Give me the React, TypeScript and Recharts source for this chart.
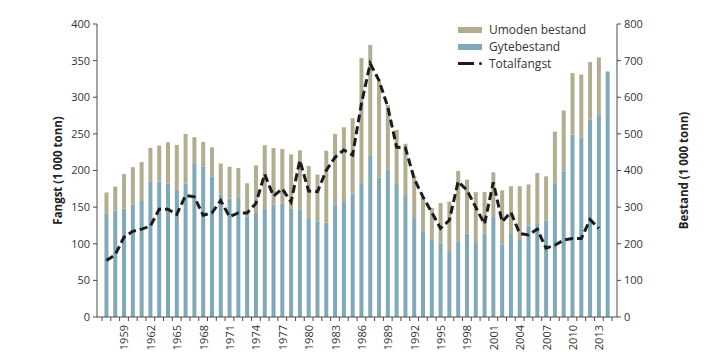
import { ComposedChart, Bar, Line, XAxis, YAxis, Legend } from "recharts";

const YEARS = [
  1957, 1958, 1959, 1960, 1961, 1962, 1963, 1964, 1965, 1966,
  1967, 1968, 1969, 1970, 1971, 1972, 1973, 1974, 1975, 1976,
  1977, 1978, 1979, 1980, 1981, 1982, 1983, 1984, 1985, 1986,
  1987, 1988, 1989, 1990, 1991, 1992, 1993, 1994, 1995, 1996,
  1997, 1998, 1999, 2000, 2001, 2002, 2003, 2004, 2005, 2006,
  2007, 2008, 2009, 2010, 2011, 2012, 2013, 2014,
];

// Gytebestand (1 000 tonn), right axis
const GYTEBESTAND = [
  283, 291, 296, 307, 319, 369, 370, 364, 347, 364,
  419, 410, 384, 335, 323, 325, 275, 284, 295, 307,
  310, 297, 294, 270, 260, 258, 308, 314, 337, 363,
  440, 380, 402, 363, 333, 270, 234, 212, 201, 180,
  205, 228, 202, 228, 273, 198, 229, 210, 249, 256,
  264, 365, 398, 498, 491, 539, 551, 670,
];

// Umoden bestand (1 000 tonn), stacked on top
const UMODEN = [
  57, 65, 94, 102, 104, 93, 98, 113, 123, 136,
  72, 68, 79, 84, 87, 82, 90, 130, 174, 154,
  149, 147, 161, 142, 129, 196, 192, 204, 206, 344,
  303, 264, 177, 148, 140, 114, 95, 86, 110, 135,
  194, 147, 139, 113, 122, 148, 128, 147, 113, 137,
  120, 141, 166, 168, 171, 157, 158, 0,
];

// Totalfangst (1 000 tonn), left axis
const TOTALFANGST = [
  77, 85, 109, 117, 120, 124, 147, 147, 140, 166,
  164, 139, 142, 159, 137, 142, 142, 155, 195, 165,
  175, 157, 214, 172, 171, 200, 218, 228, 221, 291,
  346, 323, 287, 232, 231, 189, 164, 143, 121, 132,
  185, 173, 150, 127, 184, 130, 143, 114, 112, 120,
  94, 98, 105, 107, 107, 133, 121, null,
];

const LEFT_TICKS = [0, 50, 100, 150, 200, 250, 300, 350, 400];
const RIGHT_TICKS = [0, 100, 200, 300, 400, 500, 600, 700, 800];

const KHAKI = "#b1ad8f";
const BLUE = "#7fa8b8";
const LINE = "#1c1c1c";
const AXIS = "#4a4a4a";
const TEXT = "#333333";
const FONT = "'Open Sans', 'Noto Sans', sans-serif";
const HALF_BAND = 4.4;

const data = YEARS.map((year, i) => ({
  year,
  gyte: GYTEBESTAND[i],
  umoden: UMODEN[i],
  fangst: TOTALFANGST[i],
}));

function YearTick(props: any) {
  const { x, y, payload, index } = props;
  const year = Number(payload.value);
  const showLabel = (year - 1959) % 3 === 0 && year >= 1959;
  return (
    <g>
      <line x1={x - HALF_BAND} x2={x - HALF_BAND} y1={y} y2={y + 4} stroke={AXIS} />
      {index === YEARS.length - 1 && (
        <line x1={x + HALF_BAND} x2={x + HALF_BAND} y1={y} y2={y + 4} stroke={AXIS} />
      )}
      {showLabel && (
        <text
          x={x}
          y={y + 8}
          transform={`rotate(-90 ${x} ${y + 8})`}
          textAnchor="end"
          dominantBaseline="central"
          fontSize={11}
          fill={TEXT}
          fontFamily={FONT}
        >
          {year}
        </text>
      )}
    </g>
  );
}

function AxisTitle({ viewBox, text, dx }: any) {
  const cx = viewBox.x + dx;
  const cy = viewBox.y + viewBox.height / 2;
  return (
    <text
      x={cx}
      y={cy}
      transform={`rotate(-90 ${cx} ${cy})`}
      textAnchor="middle"
      dominantBaseline="central"
      fontSize={11.5}
      fontWeight={700}
      fill="#222"
      fontFamily={FONT}
    >
      {text}
    </text>
  );
}

function ChartLegend() {
  const row = { display: "flex", alignItems: "center", height: 17 } as const;
  const label = { marginLeft: 7, fontSize: 12, color: TEXT, fontFamily: FONT } as const;
  return (
    <div>
      <div style={row}>
        <span style={{ width: 24, height: 6, background: KHAKI }} />
        <span style={label}>Umoden bestand</span>
      </div>
      <div style={row}>
        <span style={{ width: 24, height: 6, background: BLUE }} />
        <span style={label}>Gytebestand</span>
      </div>
      <div style={row}>
        <span style={{ display: "flex", alignItems: "center", width: 24 }}>
          <span style={{ width: 16, height: 3, background: LINE }} />
          <span style={{ width: 3, height: 3, marginLeft: 5, borderRadius: 2, background: LINE }} />
        </span>
        <span style={label}>Totalfangst</span>
      </div>
    </div>
  );
}

export default function App() {
  return (
    <div style={{ position: "absolute", left: 0, top: 0, background: "#fff" }}>
      <ComposedChart
        width={719}
        height={362}
        data={data}
        margin={{ top: 24, right: 0, bottom: 0, left: 0 }}
        barCategoryGap="28%"
      >
        <XAxis
          dataKey="year"
          interval={0}
          height={45}
          padding={{ left: 5, right: 5 }}
          tickLine={false}
          tickSize={0}
          tickMargin={0}
          axisLine={{ stroke: AXIS }}
          tick={<YearTick />}
        />
        <YAxis
          yAxisId="left"
          width={97}
          domain={[0, 400]}
          ticks={LEFT_TICKS}
          tickSize={4}
          tickMargin={3}
          tickLine={{ stroke: AXIS }}
          axisLine={{ stroke: AXIS }}
          tick={{ fontSize: 11, fill: TEXT, fontFamily: FONT }}
          label={<AxisTitle text="Fangst (1 000 tonn)" dx={57} />}
        />
        <YAxis
          yAxisId="right"
          orientation="right"
          width={102}
          domain={[0, 800]}
          ticks={RIGHT_TICKS}
          tickSize={4}
          tickMargin={3}
          tickLine={{ stroke: AXIS }}
          axisLine={{ stroke: AXIS }}
          tick={{ fontSize: 11, fill: TEXT, fontFamily: FONT, textAnchor: "start" }}
          label={<AxisTitle text="Bestand (1 000 tonn)" dx={66} />}
        />
        <Legend
          layout="horizontal"
          verticalAlign="middle"
          align="center"
          content={<ChartLegend />}
          wrapperStyle={{ position: "absolute", left: 458, top: 21, width: 160 }}
        />
        <Bar
          yAxisId="right"
          dataKey="gyte"
          name="Gytebestand"
          stackId="bestand"
          fill={BLUE}
          isAnimationActive={false}
        />
        <Bar
          yAxisId="right"
          dataKey="umoden"
          name="Umoden bestand"
          stackId="bestand"
          fill={KHAKI}
          isAnimationActive={false}
        />
        <Line
          yAxisId="left"
          dataKey="fangst"
          name="Totalfangst"
          type="linear"
          stroke={LINE}
          strokeWidth={3}
          strokeDasharray="8 4"
          dot={false}
          activeDot={false}
          isAnimationActive={false}
        />
      </ComposedChart>
    </div>
  );
}
